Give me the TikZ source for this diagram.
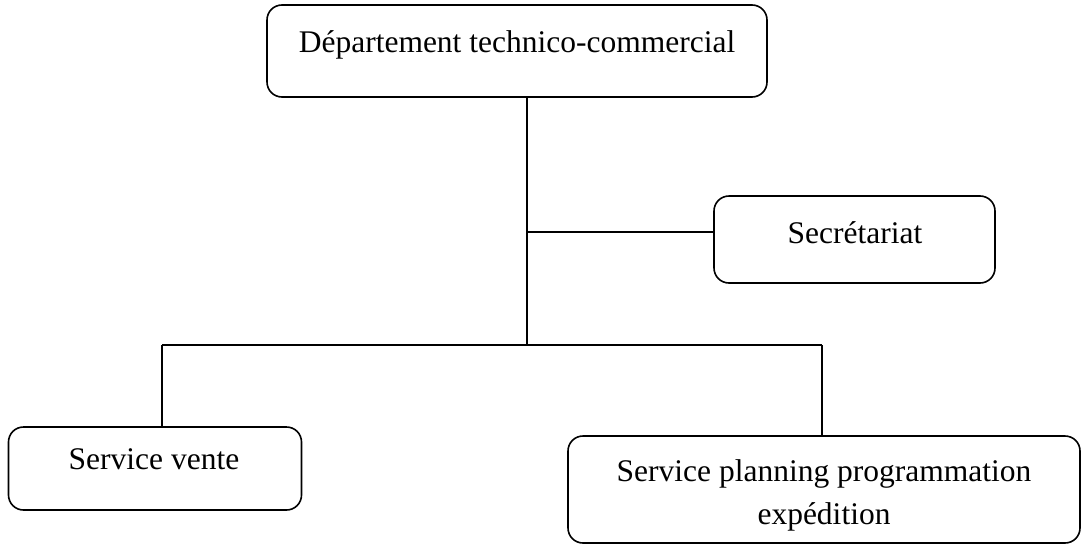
\documentclass[tikz,border=0pt]{standalone}
\usepackage{fontspec}
\setmainfont{Liberation Serif}
\begin{document}
\begin{tikzpicture}[x=1pt,y=-1pt,
  box/.style={draw=black, line width=1.6pt, rounded corners=15pt, inner sep=0pt},
  lbl/.style={font=\fontsize{31.5}{43}\selectfont, align=center, inner sep=0pt},
  wire/.style={draw=black, line width=1.6pt}]
\useasboundingbox (0,0) rectangle (1091,546);
% boxes
\node[box, minimum width=500pt, minimum height=92pt] (dep) at (517,51) {};
\node[box, minimum width=281pt, minimum height=87pt] (sec) at (854.5,239.5) {};
\node[box, minimum width=293pt, minimum height=83pt] (ven) at (155,468.5) {};
\node[box, minimum width=512pt, minimum height=107pt] (pla) at (824,489.5) {};
% texts
\node[lbl] at (517,45) {Département technico-commercial};
\node[lbl] at (855,233) {Secrétariat};
\node[lbl] at (154,459) {Service vente};
\node[lbl] at (824,495) {Service planning programmation\\expédition};
% connectors
\coordinate (bus) at (527,345);
\coordinate (busL) at (162,345);
\coordinate (busR) at (822,345);
\coordinate (secy) at (0,232);
\draw[wire] (dep.south -| bus) -- (bus);
\draw[wire] (secy -| bus) -- (secy -| sec.west);
\draw[wire] (busL) -- (busR);
\draw[wire] (busL) -- (busL |- ven.north);
\draw[wire] (busR) -- (busR |- pla.north);
\end{tikzpicture}
\end{document}
